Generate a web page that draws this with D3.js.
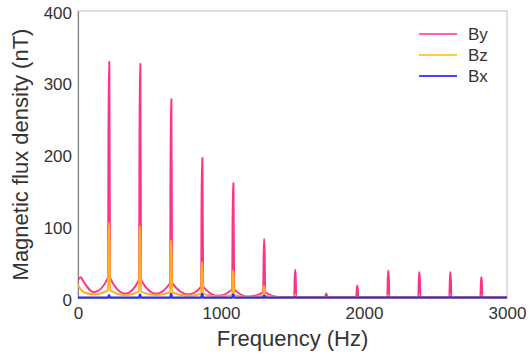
<!DOCTYPE html>
<html>
<head>
<meta charset="utf-8">
<script src="https://cdn.jsdelivr.net/npm/d3@7"></script>
<style>
  body { margin: 0; background: #fff; }
  text { font-family: "Liberation Sans", Arial, Helvetica, sans-serif; fill: #333; }
</style>
</head>
<body>
<script>
// harmonic frequencies (Hz) and peak heights (nT)
var harmonics = [217, 434, 651, 868, 1085, 1302, 1519, 1736, 1953, 2170, 2387, 2604, 2821];
var byPeaks = [329, 326, 277, 195, 160, 82, 39, 6, 17, 38, 36, 36, 29];
var bzPeaks = [105, 100, 80, 50, 38, 16, 4, 1.5, 1.5, 3, 2, 2, 2];
var bxPeaks = [4, 5, 6, 6, 5, 3, 1.5, 1, 1, 1.5, 1.5, 1.5, 1.5];

// background level between the spikes, [Hz, nT]
var byFloor = [[0, 25], [20, 29], [35, 24], [112, 8], [217, 28], [331, 6], [434, 25], [545, 6],
  [651, 21], [771, 5], [868, 16], [981, 3], [1085, 12], [1191, 2], [1302, 8], [1410, 1.5],
  [1519, 1.5], [1736, 1.5], [1953, 1.5], [2170, 1.5], [2387, 1.5], [2604, 1.5], [2821, 1.5], [3000, 1.5]];
var bzFloor = [[0, 18], [40, 8], [112, 5], [217, 11], [331, 4], [434, 9], [545, 4], [651, 8],
  [771, 3], [868, 6], [981, 2], [1085, 4], [1191, 1.5], [1302, 3], [1410, 1], [1519, 1],
  [1736, 1], [1953, 1], [2170, 1], [2387, 1], [2604, 1], [2821, 1], [3000, 1]];
var bxFloor = [[0, 0.8], [217, 0.8], [434, 0.8], [651, 0.8], [868, 0.8], [1085, 0.8], [1302, 0.8],
  [1519, 0.8], [1736, 0.8], [1953, 0.8], [2170, 0.8], [2387, 0.8], [2604, 0.8], [2821, 0.8], [3000, 0.8]];

var xTicks = [0, 1000, 2000, 3000];
var yTicks = [0, 100, 200, 300, 400];

var series = [
  {name: "By", floor: byFloor, peaks: byPeaks, color: "#ff3385", legend: "#ff62a9"},
  {name: "Bz", floor: bzFloor, peaks: bzPeaks, color: "#ffb020", legend: "#ffc940"},
  {name: "Bx", floor: bxFloor, peaks: bxPeaks, color: "#2b2bff", legend: "#4646ff"}
];

var W = 529, H = 357;
var margin = {top: 11, right: 22, bottom: 59, left: 78};
var width = W - margin.left - margin.right;
var height = H - margin.top - margin.bottom;

var x = d3.scaleLinear().domain([0, 3000]).range([0, width]);
var y = d3.scaleLinear().domain([0, 400]).range([height, 0]);

// put a narrow spike on top of the floor at every harmonic
function buildPoints(floor, peaks) {
  var pts = [];
  floor.forEach(function(p) {
    var i = harmonics.indexOf(p[0]);
    if (i < 0) { pts.push(p); return; }
    pts.push([p[0] - 7, p[1]]);
    pts.push([p[0] - 2, peaks[i]]);
    pts.push([p[0] + 2, peaks[i]]);
    pts.push([p[0] + 7, p[1]]);
  });
  return pts;
}

var svg = d3.select("body").append("svg")
  .attr("width", W)
  .attr("height", H);

var g = svg.append("g")
  .attr("transform", "translate(" + margin.left + "," + margin.top + ")");

g.append("clipPath").attr("id", "plot-clip")
  .append("rect").attr("x", 0).attr("y", -2).attr("width", width).attr("height", height + 4);

g.append("rect")
  .attr("width", width)
  .attr("height", height)
  .attr("fill", "none")
  .attr("stroke", "#c8c8c8")
  .attr("stroke-width", 1.2);

var xAxis = g.append("g")
  .attr("transform", "translate(0," + height + ")")
  .call(d3.axisBottom(x).tickValues(xTicks).tickSize(0).tickPadding(9).tickFormat(d3.format("d")));
xAxis.select(".domain").attr("stroke", "#999");
xAxis.selectAll("text").style("font-size", "17px").attr("fill", "#333");

var yAxis = g.append("g")
  .call(d3.axisLeft(y).tickValues(yTicks).tickSize(0).tickPadding(6));
yAxis.select(".domain").attr("stroke", "#888").attr("stroke-width", 1.2);
yAxis.selectAll("text").style("font-size", "17px").attr("fill", "#333").attr("dy", "0.42em");

var line = d3.line()
  .x(function(d) { return x(d[0]); })
  .y(function(d) { return y(d[1]); })
  .curve(d3.curveMonotoneX);

g.append("g").attr("clip-path", "url(#plot-clip)")
  .selectAll("path.trace")
  .data(series)
  .enter().append("path")
  .attr("class", "trace")
  .attr("fill", "none")
  .attr("stroke", function(d) { return d.color; })
  .attr("stroke-width", 2)
  .attr("stroke-linejoin", "round")
  .attr("d", function(d) { return line(buildPoints(d.floor, d.peaks)); });

// legend
var legend = g.selectAll("g.legend")
  .data(series)
  .enter().append("g")
  .attr("class", "legend")
  .attr("transform", function(d, i) { return "translate(341," + (23 + i * 21) + ")"; });

legend.append("line")
  .attr("x1", 0).attr("x2", 38)
  .attr("stroke", function(d) { return d.legend; })
  .attr("stroke-width", 2);

legend.append("text")
  .attr("x", 49)
  .attr("dy", "0.36em")
  .style("font-size", "17px")
  .text(function(d) { return d.name; });

svg.append("text")
  .attr("x", margin.left + width / 2)
  .attr("y", 346)
  .attr("text-anchor", "middle")
  .style("font-size", "22px")
  .text("Frequency (Hz)");

svg.append("text")
  .attr("transform", "translate(28," + (margin.top + height / 2) + ") rotate(-90)")
  .attr("text-anchor", "middle")
  .style("font-size", "22px")
  .text("Magnetic flux density (nT)");
</script>
</body>
</html>
